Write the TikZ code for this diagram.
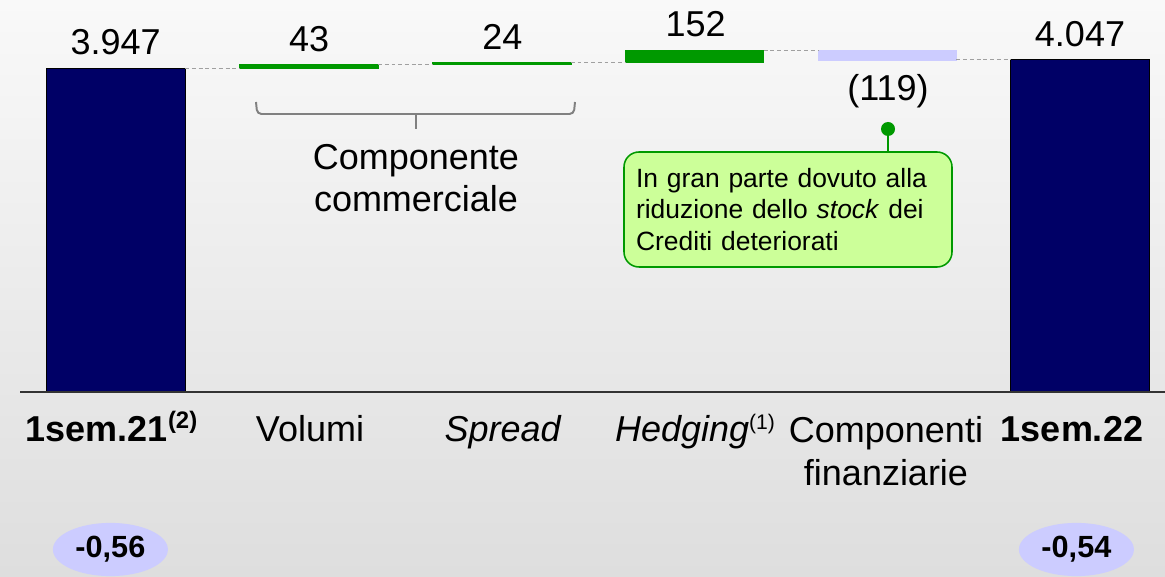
\documentclass[tikz,border=0pt]{standalone}
\usepackage{fontspec}
\setmainfont{Liberation Sans}
\usetikzlibrary{shapes.geometric}
\definecolor{navybar}{RGB}{0,0,102}
\definecolor{greenbar}{RGB}{0,153,0}
\definecolor{lilacbar}{RGB}{204,204,255}
\definecolor{notefill}{RGB}{204,255,153}
\definecolor{bgtop}{RGB}{249,249,249}
\definecolor{bgbottom}{RGB}{222,222,222}
\definecolor{bracegray}{RGB}{128,128,128}
\definecolor{dashgray}{RGB}{160,160,160}

\begin{document}
\begin{tikzpicture}[
  value/.style={font=\fontsize{25.6}{30}\selectfont, anchor=base, inner sep=0pt},
  category/.style={font=\fontsize{25.6}{30.5}\selectfont, anchor=base, inner sep=0pt, align=center},
  link/.style={dashgray, dashed, dash pattern=on 2.8pt off 2pt, line width=0.7pt},
  ratio/.style={ellipse, fill=lilacbar, minimum width=2.875cm, minimum height=1.33cm, inner sep=0pt,
    font=\bfseries\fontsize{21.8}{24}\selectfont}
]
\useasboundingbox (0,0) rectangle (29.125,14.4);
\shade[top color=bgtop,bottom color=bgbottom] (0,0) rectangle (29.125,14.4);

% bars
\draw[fill=navybar,draw=black,line width=0.7pt] (1.17,4.6) rectangle (4.63,12.7);
\draw[fill=greenbar,draw=greenbar,line width=0.4pt] (5.99,12.7) rectangle (9.45,12.788);
\draw[fill=greenbar,draw=greenbar,line width=0.4pt] (10.81,12.788) rectangle (14.27,12.837);
\draw[fill=greenbar,draw=greenbar,line width=0.4pt] (15.63,12.837) rectangle (19.09,13.149);
\draw[fill=lilacbar,draw=lilacbar,line width=0.4pt] (20.45,13.149) rectangle (23.91,12.905);
\draw[fill=navybar,draw=black,line width=0.7pt] (25.27,4.6) rectangle (28.73,12.905);

\draw[link] (4.63,12.7) -- (5.99,12.7);
\draw[link] (9.45,12.788) -- (10.81,12.788);
\draw[link] (14.27,12.837) -- (15.63,12.837);
\draw[link] (19.09,13.149) -- (20.45,13.149);
\draw[link] (23.91,12.905) -- (25.27,12.905);

\draw[black!80,line width=1.4pt] (0.5,4.6) -- (29.125,4.6);

% values
\node[value] (v1) at (2.89,13.025) {3.947};
\node[value] (v2) at (7.73,13.1) {43};
\node[value] (v3) at (12.56,13.15) {24};
\node[value] (v4) at (17.39,13.475) {152};
\node[value] (v5) at (22.2,11.875) {(119)};
\node[value] (v6) at (27.0,13.225) {4.047};

% brace
\draw[bracegray,line width=1.4pt,rounded corners=3pt] (6.4,11.85) -- (6.43,11.55) -- (14.345,11.55) -- (14.375,11.85);
\draw[bracegray,line width=1.4pt] (10.4,11.55) -- (10.4,11.175);
\node[category] (comm) at (10.4,9.1) {Componente\\commerciale};

% note
\node[draw=greenbar,fill=notefill,line width=1.1pt,rounded corners=0.375cm,
  minimum width=8.2cm,minimum height=2.875cm,text width=7.6cm,inner xsep=0.3cm,align=left,
  font=\fontsize{18.8}{22.4}\selectfont] (note) at (19.7,9.1625)
  {In gran parte dovuto alla\\riduzione dello \textit{stock} dei\\Crediti deteriorati};
\coordinate (dot) at (22.2,11.175);
\draw[greenbar,line width=1.1pt] (dot) -- (dot |- note.north);
\fill[greenbar] (dot) circle (0.175);

% categories
\node[category] (c1) at (2.79,3.35) {\textbf{1sem.21}\raisebox{0.325cm}{\fontsize{17}{17}\selectfont\textbf{(2)}}};
\node[category] (c2) at (7.75,3.35) {Volumi};
\node[category] (c3) at (12.575,3.35) {\textit{Spread}};
\node[category] (c4) at (17.375,3.35) {\textit{Hedging}\raisebox{0.3cm}{\fontsize{15}{15}\selectfont(1)}};
\node[category] (c5) at (22.15,2.275) {Componenti\\finanziarie};
\node[category] (c6) at (26.8,3.35) {\textbf{1sem.22}};

\node[ratio] (r1) at (2.76,0.6625) {-0,56};
\node[ratio] (r2) at (26.91,0.6625) {-0,54};

\end{tikzpicture}
\end{document}
